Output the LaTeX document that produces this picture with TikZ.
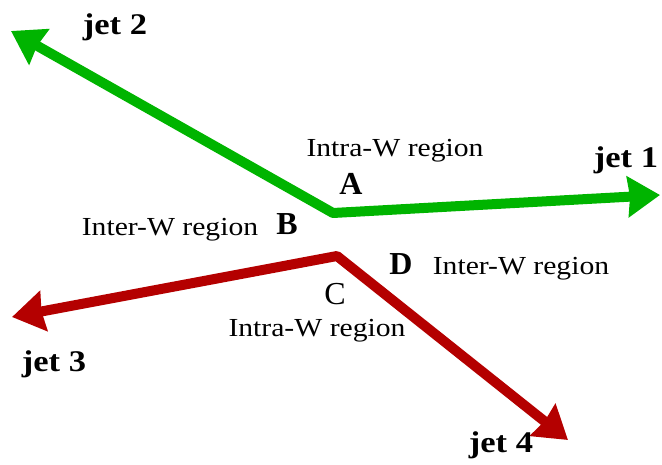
\documentclass[tikz,border=0pt]{standalone}
\usepackage{fontspec}
\setmainfont{Liberation Serif}
\usetikzlibrary{arrows.meta}
\definecolor{jetgreen}{RGB}{0,180,0}
\definecolor{jetred}{RGB}{180,0,0}
\tikzset{
  jethead/.tip={Stealth[length=32pt,width=40pt,inset=2pt]},
  jetline/.style={line width=10pt, line join=round, {jethead}-{jethead}},
  jetlabel/.style={inner sep=0pt, anchor=base, font=\fontsize{30}{32}\selectfont\bfseries},
  regionlabel/.style={inner sep=0pt, anchor=base, font=\fontsize{26}{28}\selectfont},
  ptlabel/.style={inner sep=0pt, anchor=base, font=\fontsize{32}{34}\selectfont\bfseries},
  ptlabelreg/.style={inner sep=0pt, anchor=base, font=\fontsize{32}{34}\selectfont},
}
\begin{document}
\begin{tikzpicture}[x=1pt,y=-1pt]
\useasboundingbox (0,0) rectangle (662,465);
% vertices and tips
\coordinate (gv) at (333,213);
\coordinate (j1) at (660,195);
\coordinate (j2) at (11,31);
\coordinate (rv) at (337,256);
\coordinate (j3) at (12,317);
\coordinate (j4) at (568,440);
% jets
\draw[jetline, color=jetgreen] (j2) -- (gv) -- (j1);
\draw[jetline, color=jetred] (j3) -- (rv) -- (j4);
% labels
\node[jetlabel] (l2) at (115,35) {\scalebox{1.15}[1]{jet 2}};
\node[jetlabel] (l1) at (626,168) {\scalebox{1.15}[1]{jet 1}};
\node[jetlabel] (l3) at (54,372) {\scalebox{1.15}[1]{jet 3}};
\node[jetlabel] (l4) at (501,452) {\scalebox{1.15}[1]{jet 4}};
\node[regionlabel] (r1) at (395,157) {\scalebox{1.14}[1]{Intra-W region}};
\node[regionlabel] (r2) at (170,236) {\scalebox{1.14}[1]{Inter-W region}};
\node[regionlabel] (r3) at (521,275) {\scalebox{1.14}[1]{Inter-W region}};
\node[regionlabel] (r4) at (317,337) {\scalebox{1.14}[1]{Intra-W region}};
\node[ptlabel] (pA) at (351,195) {A};
\node[ptlabel] (pB) at (287,235) {B};
\node[ptlabel] (pD) at (401,275) {D};
\node[ptlabelreg] (pC) at (335,305) {C};
\end{tikzpicture}
\end{document}
